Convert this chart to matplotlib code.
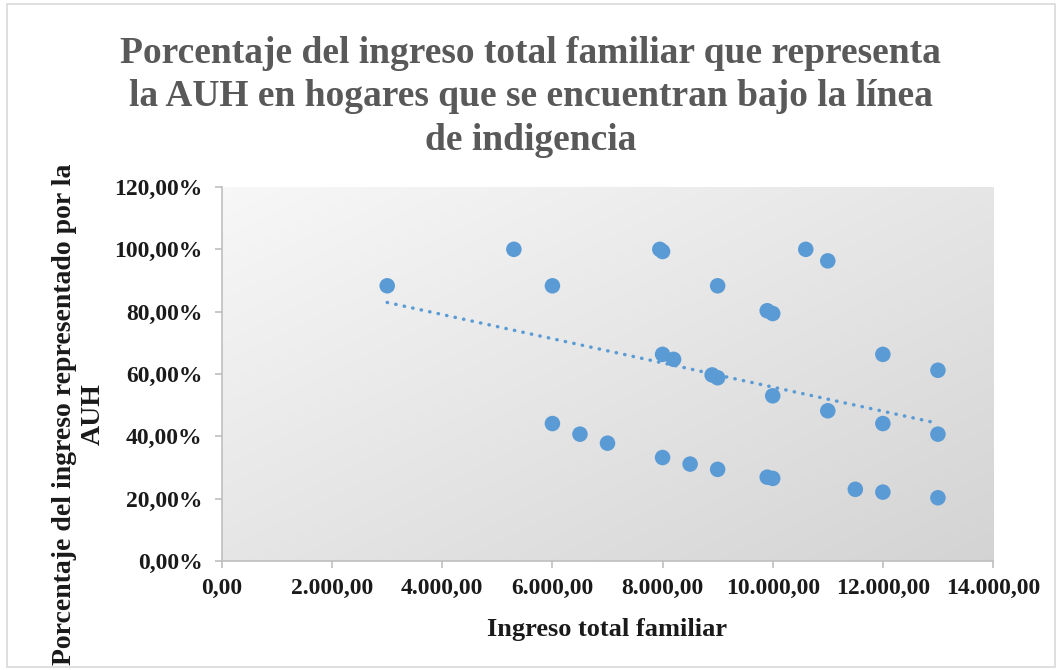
import numpy as np
import matplotlib
matplotlib.use("Agg")
import matplotlib.pyplot as plt
from matplotlib.ticker import FuncFormatter, MultipleLocator
from matplotlib.patches import Rectangle

# Ingreso total familiar vs porcentaje que representa la AUH
ingreso = [3000, 5300, 6000, 6000, 6500, 7000,
           7950, 8000, 9000, 9900, 10000, 10600, 11000,
           8000, 8200, 8900, 9000, 10000, 11000, 12000, 13000,
           12000, 13000, 8000, 8500, 9000, 9900, 10000, 11500, 12000, 13000]
porcentaje = [88.3, 100.0, 88.3, 44.1, 40.7, 37.8,
              100.0, 99.3, 88.3, 80.3, 79.4, 100.0, 96.3,
              66.3, 64.7, 59.7, 58.8, 53.0, 48.2, 66.3, 61.2,
              44.1, 40.7, 33.2, 31.1, 29.4, 26.9, 26.5, 23.0, 22.1, 20.3]

titulo = ("Porcentaje del ingreso total familiar que representa\n"
          "la AUH en hogares que se encuentran bajo la línea\n"
          "de indigencia")
xlabel = "Ingreso total familiar"
ylabel = "Porcentaje del ingreso representado por la\nAUH"

azul = "#5b9bd5"
plt.rcParams['font.family'] = ['Liberation Serif', 'DejaVu Serif']

fig = plt.figure(figsize=(10.61, 6.70), dpi=100)
W, H = 1061, 670
ax = fig.add_axes([222 / W, 1 - 561 / H, (993 - 222) / W, (561 - 187) / H])

# chart border
fig.patches.append(Rectangle((7 / W, 3 / H), (1055 - 7) / W, (666 - 3) / H,
                             transform=fig.transFigure, fill=False,
                             edgecolor="#d9d9d9", linewidth=1.2))

# gradient background of plot area (light top-left -> grey bottom-right)
gx, gy = np.meshgrid(np.linspace(0, 1, 200), np.linspace(0, 1, 200))
grad = (gx + gy) / 2
img = np.zeros((200, 200, 3))
c0 = np.array([0.97, 0.97, 0.97])
c1 = np.array([0.83, 0.83, 0.83])
for k in range(3):
    img[:, :, k] = c0[k] + (c1[k] - c0[k]) * grad
ax.imshow(img, extent=[0, 1, 0, 1], transform=ax.transAxes, origin="upper",
          aspect="auto", zorder=0)

x = np.array(ingreso)
y = np.array(porcentaje) / 100
ax.scatter(x, y, s=125, color=azul, edgecolors="none", zorder=3)

# linear trendline
m, b = np.polyfit(x, y, 1)
xt = np.array([x.min(), x.max()])
ax.plot(xt, m * xt + b, color=azul, linewidth=2.5, linestyle=(0, (0.1, 2.4)),
        dash_capstyle="round", zorder=2)

ax.set_xlim(0, 14000)
ax.set_ylim(0, 1.2)
ax.xaxis.set_major_locator(MultipleLocator(2000))
ax.yaxis.set_major_locator(MultipleLocator(0.2))


def fmt_x(v, pos):
    s = "{:,.2f}".format(v)
    return s.replace(",", "X").replace(".", ",").replace("X", ".")


def fmt_y(v, pos):
    return "{:.2f}%".format(v * 100).replace(".", ",")


ax.xaxis.set_major_formatter(FuncFormatter(fmt_x))
ax.yaxis.set_major_formatter(FuncFormatter(fmt_y))

for s in ["top", "right"]:
    ax.spines[s].set_visible(False)
for s in ["left", "bottom"]:
    ax.spines[s].set_color("#bfbfbf")
    ax.spines[s].set_linewidth(1.2)
ax.tick_params(axis="both", colors="#bfbfbf", length=5, width=1.2,
               labelcolor="#1a1a1a", labelsize=17)
ax.tick_params(axis="y", pad=9)
ax.tick_params(axis="x", pad=7)
for lab in ax.get_xticklabels() + ax.get_yticklabels():
    lab.set_fontweight("bold")

ax.set_xlabel(xlabel, fontsize=19, fontweight="bold", labelpad=14,
              color="#1a1a1a")
fig.text(79 / W, 1 - 414 / H, ylabel, rotation=90, ha="center", va="center",
         multialignment="center", fontsize=20, fontweight="bold",
         linespacing=1.2, color="#1a1a1a")

fig.text(0.5, 1 - 97 / H, titulo, ha="center", va="center", fontsize=27,
         fontweight="bold", color="#595959", linespacing=1.32)

fig.savefig("out.png", dpi=100)
